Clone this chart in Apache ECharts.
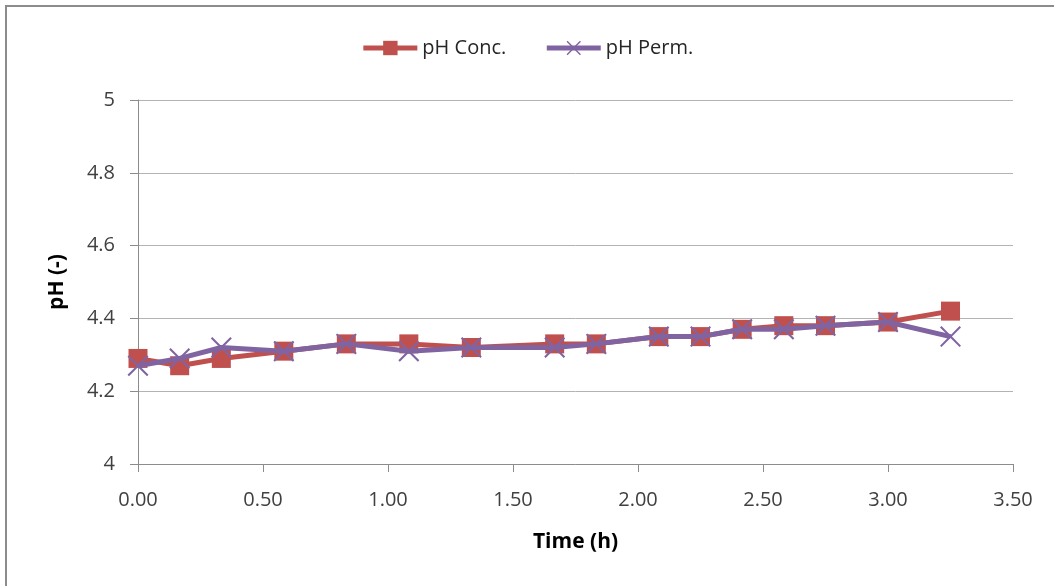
<!DOCTYPE html>
<html>
<head>
<meta charset="utf-8">
<style>
  html, body { margin: 0; padding: 0; background: #fff; }
  #chart { width: 1054px; height: 586px; }
</style>
<script src="https://cdn.jsdelivr.net/npm/echarts@6/dist/echarts.min.js"></script>
</head>
<body>
<div id="chart"></div>
<script>
// Sampling times in hours
const timeH = [0, 0.1667, 0.3333, 0.5833, 0.8333, 1.0833, 1.3333, 1.6667, 1.8333, 2.0833, 2.25, 2.4167, 2.5833, 2.75, 3.0, 3.25];
// pH of concentrate and permeate
const phConc = [4.29, 4.27, 4.29, 4.31, 4.33, 4.33, 4.32, 4.33, 4.33, 4.35, 4.35, 4.37, 4.38, 4.38, 4.39, 4.42];
const phPerm = [4.27, 4.29, 4.32, 4.31, 4.33, 4.31, 4.32, 4.32, 4.33, 4.35, 4.35, 4.37, 4.37, 4.38, 4.39, 4.35];
const seriesNames = ['pH Conc.', 'pH Perm.'];

const FONT = "'Open Sans', 'Noto Sans', sans-serif";
const TEXT = '#404040';
const RED = '#C0504D';
const PURPLE = '#8064A2';
const CROSS = 'path://M0,0.7L0.7,0L5,4.3L9.3,0L10,0.7L5.7,5L10,9.3L9.3,10L5,5.7L0.7,10L0,9.3L4.3,5Z';

const pairs = (xs, ys) => xs.map((x, i) => [x, ys[i]]);

const chart = echarts.init(document.getElementById('chart'), null, { renderer: 'canvas' });
chart.setOption({
  animation: false,
  backgroundColor: '#fff',
  textStyle: { fontFamily: FONT, color: TEXT },
  graphic: [{
    type: 'rect',
    shape: { x: 6, y: 6, width: 1200, height: 700 },
    style: { fill: 'none', stroke: '#8c8c8c', lineWidth: 2 },
    silent: true
  }],
  legend: {
    top: 33, left: 'center',
    itemWidth: 54, itemHeight: 18, itemGap: 38,
    textStyle: { fontFamily: FONT, fontSize: 20, color: '#262626' },
    data: [
      { name: seriesNames[0], lineStyle: { width: 5 } },
      { name: seriesNames[1], lineStyle: { width: 5 } }
    ]
  },
  grid: { left: 138, right: 41, top: 100, bottom: 122 },
  xAxis: {
    type: 'value', min: 0, max: 3.5, interval: 0.5,
    name: 'Time (h)', nameLocation: 'middle', nameGap: 68,
    nameTextStyle: { fontFamily: FONT, fontSize: 21, fontWeight: 'bold', color: '#000' },
    axisLine: { show: true, onZero: false, lineStyle: { color: '#8c8c8c', width: 1 } },
    axisTick: { show: true, length: 8, lineStyle: { color: '#8c8c8c' } },
    axisLabel: { fontFamily: FONT, fontSize: 20, color: TEXT, margin: 26, formatter: v => v.toFixed(2) },
    splitLine: { show: false }
  },
  yAxis: {
    type: 'value', min: 4, max: 5, interval: 0.2,
    name: 'pH (-)', nameLocation: 'middle', nameGap: 70, nameRotate: 90,
    nameTextStyle: { fontFamily: FONT, fontSize: 21, fontWeight: 'bold', color: '#000' },
    axisLine: { show: true, lineStyle: { color: '#8c8c8c', width: 1 } },
    axisTick: { show: true, length: 8, lineStyle: { color: '#8c8c8c' } },
    axisLabel: { fontFamily: FONT, fontSize: 20, color: TEXT, margin: 23, formatter: v => String(Math.round(v * 10) / 10) },
    splitLine: { show: true, lineStyle: { color: '#b3b3b3', width: 1 } }
  },
  series: [
    {
      name: seriesNames[0], type: 'line',
      data: pairs(timeH, phConc),
      symbol: 'rect', symbolSize: 19,
      lineStyle: { color: RED, width: 5 },
      itemStyle: { color: RED },
      z: 2
    },
    {
      name: seriesNames[1], type: 'line',
      data: pairs(timeH, phPerm),
      symbol: CROSS, symbolSize: 21,
      lineStyle: { color: PURPLE, width: 5 },
      itemStyle: { color: PURPLE },
      z: 3
    }
  ]
});
</script>
</body>
</html>
